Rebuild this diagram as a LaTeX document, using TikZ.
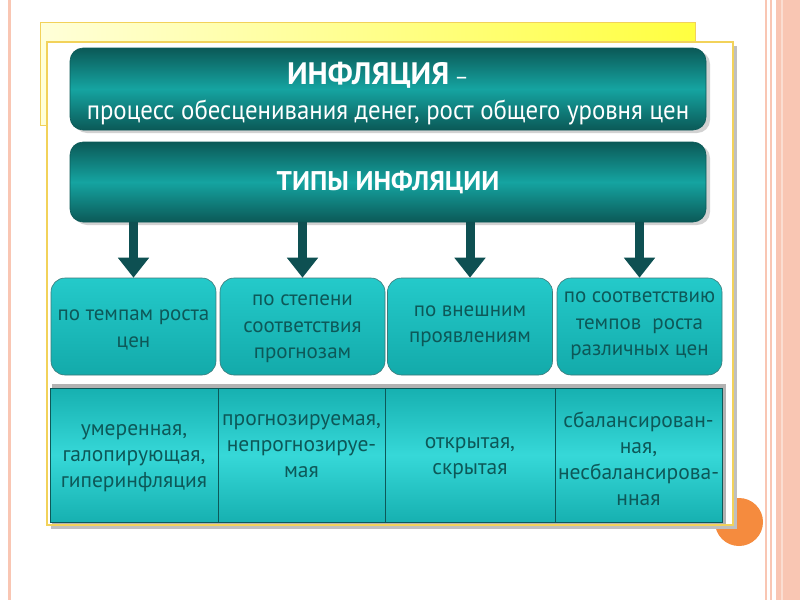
\documentclass[tikz,border=0pt]{standalone}
\usepackage{fontspec}
\setmainfont{PT Sans}
\newfontfamily\narrowf[FakeStretch=0.92]{PT Sans}
\usetikzlibrary{shadows,arrows.meta}
\definecolor{pinkb}{HTML}{F9C6B3}
\definecolor{gold}{HTML}{F2D25A}
\definecolor{tealdark}{HTML}{0B5957}
\definecolor{tealmid}{HTML}{15A4A1}
\definecolor{cyanA}{HTML}{24CACA}
\definecolor{cyanB}{HTML}{13AAAA}
\definecolor{cyanC}{HTML}{36D8D8}
\definecolor{txtteal}{HTML}{0D5858}
\definecolor{arrcol}{HTML}{0E5052}
\definecolor{orangec}{HTML}{F58B3E}
\tikzset{
  darkbox/.style={draw=tealdark, line width=0.6pt, rounded corners=13pt,
    top color=tealdark, bottom color=tealdark, middle color=tealmid,
    minimum width=636pt, text=white, align=center,
    drop shadow={shadow xshift=4pt, shadow yshift=-3pt, fill=black!35}},
  catbox/.style={draw=txtteal!80, line width=0.6pt, rounded corners=14pt,
    top color=cyanA, bottom color=cyanB,
    minimum width=165pt, minimum height=97pt, inner sep=1pt},
  cattext/.style={text=txtteal, align=center, inner sep=0pt,
    font=\fontsize{21}{26.5}\selectfont},
  valbox/.style={draw=txtteal, line width=0.6pt,
    top color=cyanB!80!cyanA, bottom color=cyanB!80!cyanA, middle color=cyanC,
    minimum width=168pt, minimum height=134pt},
  valtext/.style={text=txtteal, align=center, inner sep=0pt,
    font=\fontsize{21.5}{26}\selectfont},
  downarr/.style={draw=arrcol, line width=9pt,
    -{Triangle[width=30pt,length=20pt]}}
}
\begin{document}
\begin{tikzpicture}[x=1pt,y=-1pt]
\useasboundingbox (0,0) rectangle (800,600);
\fill[white] (0,0) rectangle (800,600);
% page decorations
\fill[pinkb] (8,0) rectangle (11,600);
\fill[pinkb] (765,0) rectangle (767,600);
\fill[pinkb] (770,0) rectangle (772,600);
\fill[pinkb] (776,0) rectangle (800,600);
\fill[pinkb!60!white] (781,0) rectangle (783,600);
% orange circle
\fill[orangec] (739,522) circle (24);
% yellow back card
\shade[left color=yellow!15!white, right color=yellow!75!white, draw=gold, line width=0.8pt]
  (40,22) rectangle (695,125);
% white card
\fill[black!25] (51,46) rectangle (737,529);
\filldraw[fill=white, draw=gold, line width=1.5pt] (47,42) rectangle (733,525);
% heading boxes
\node[darkbox, minimum height=82pt] (b1) at (388,89) {};
\node[text=white, font=\fontsize{31}{34}\bfseries\selectfont] (t1) at (378,75)
  {ИНФЛЯЦИЯ\,{\fontsize{22}{22}\mdseries\selectfont –}};
\node[text=white, font=\narrowf\fontsize{27}{30}\selectfont] (t2) at (388,112)
  {процесс обесценивания денег, рост общего уровня цен};
\node[darkbox, minimum height=80pt, font=\fontsize{27}{30}\bfseries\selectfont] (b2) at (388,182)
  {ТИПЫ ИНФЛЯЦИИ};
% category boxes
\node[catbox] (c1) at (133.5,326.5) {};
\node[catbox] (c2) at (302.5,326.5) {};
\node[catbox] (c3) at (470,326.5) {};
\node[catbox] (c4) at (639.5,326.5) {};
\node[cattext] (ct1) at (133.5,330) {по темпам роста\\цен};
\node[cattext] (ct2) at (302.5,329) {по степени\\соответствия\\прогнозам};
\node[cattext] (ct3) at (470,326) {по внешним\\проявлениям};
\node[cattext] (ct4) at (639.5,326) {по соответствию\\темпов\ \ роста\\различных цен};
% value boxes
\fill[black!30] (52,384) rectangle (726,524);
\node[valbox] (v1) at (134,455) {};
\node[valbox, minimum width=167pt] (v2) at (301.5,455) {};
\node[valbox, minimum width=170pt] (v3) at (470,455) {};
\node[valbox, minimum width=167pt] (v4) at (638.5,455) {};
\node[valtext] (vt1) at (134,458) {умеренная,\\галопирующая,\\гиперинфляция};
\node[valtext] (vt2) at (301.5,446) {прогнозируемая,\\непрогнозируе-\\мая};
\node[valtext] (vt3) at (470,458) {открытая,\\скрытая};
\node[valtext] (vt4) at (638.5,459) {сбалансирован-\\ная,\\несбалансирова-\\нная};
% arrows
\foreach \c in {c1,c2,c3,c4}
  \draw[downarr] (\c.north |- b2.south) -- (\c.north);
\end{tikzpicture}
\end{document}
